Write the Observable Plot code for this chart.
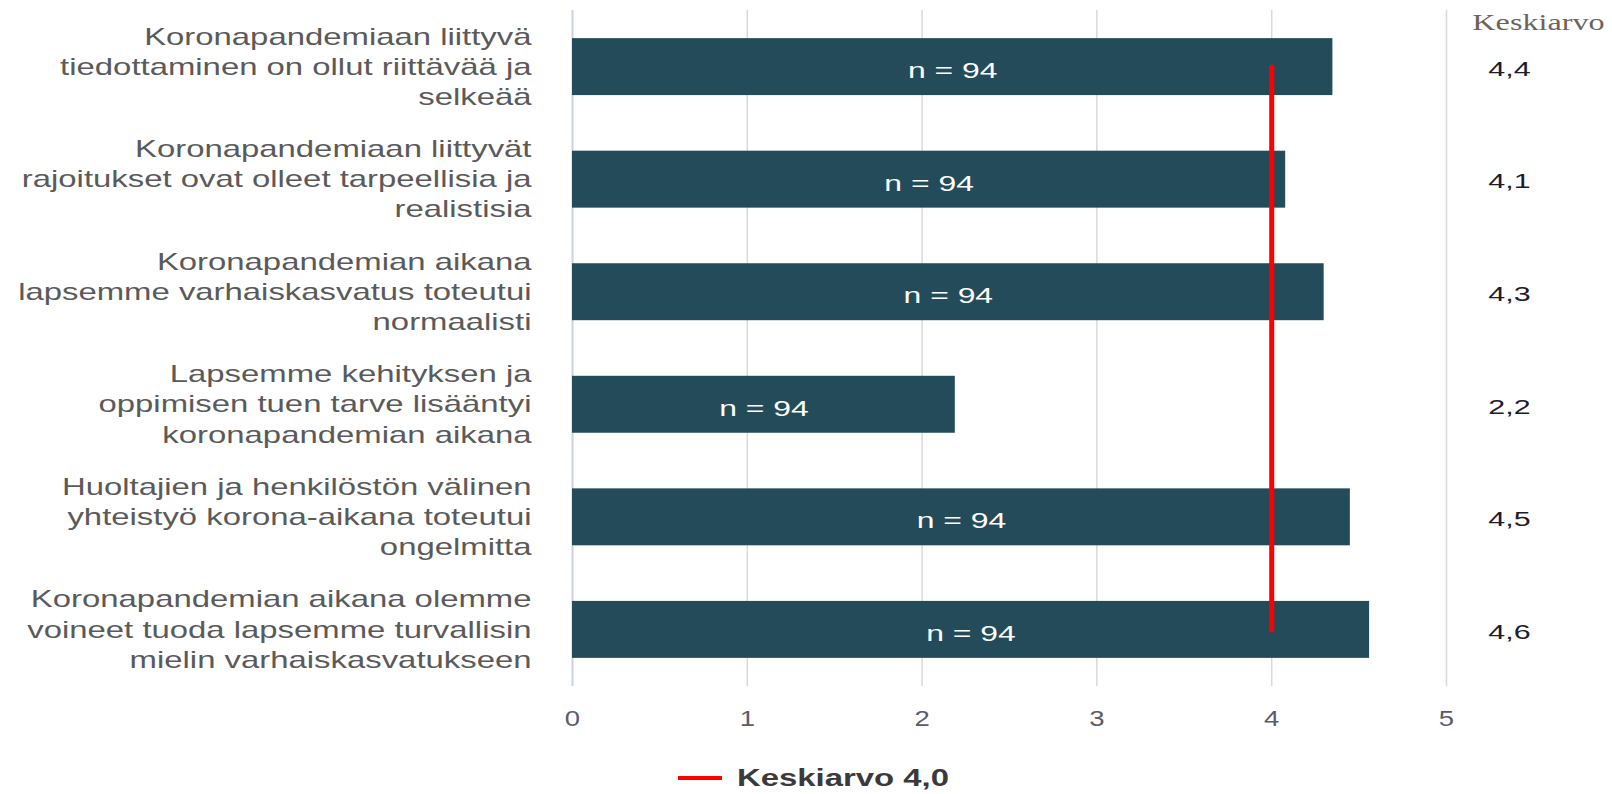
<!DOCTYPE html>
<html>
<head>
<meta charset="utf-8">
<script src="https://cdn.jsdelivr.net/npm/d3@7"></script>
<script src="https://cdn.jsdelivr.net/npm/@observablehq/plot@0.6"></script>
<style>
  body { margin: 0; background: #fff; }
  #legend { display: flex; align-items: center; height: 28px; margin-top: 14px; padding-left: 678px;
            font-family: "Liberation Sans", Arial, sans-serif; }
  #legend .swatch { display: inline-block; width: 44px; height: 4px; background: #ff0000; margin-right: 15px; }
  #legend .lbl { display: inline-block; font-weight: bold; font-size: 24px; color: #3a3a3a;
                 transform: scaleX(1.37); transform-origin: left center; white-space: nowrap; }
</style>
</head>
<body>
<div id="chart"></div>
<div id="legend"><span class="swatch"></span><span class="lbl"></span></div>
<script>
const categories = [
  "Koronapandemiaan liittyvä\ntiedottaminen on ollut riittävää ja\nselkeää",
  "Koronapandemiaan liittyvät\nrajoitukset ovat olleet tarpeellisia ja\nrealistisia",
  "Koronapandemian aikana\nlapsemme varhaiskasvatus toteutui\nnormaalisti",
  "Lapsemme kehityksen ja\noppimisen tuen tarve lisääntyi\nkoronapandemian aikana",
  "Huoltajien ja henkilöstön välinen\nyhteistyö korona-aikana toteutui\nongelmitta",
  "Koronapandemian aikana olemme\nvoineet tuoda lapsemme turvallisin\nmielin varhaiskasvatukseen"
];
const means = [4.35, 4.08, 4.30, 2.19, 4.45, 4.56];
const meanLabels = ["4,4", "4,1", "4,3", "2,2", "4,5", "4,6"];
const nLabels = ["n = 94", "n = 94", "n = 94", "n = 94", "n = 94", "n = 94"];
const xTicks = [0, 1, 2, 3, 4, 5];
const overallMean = 4.0;
const valueHeader = "Keskiarvo";
const legendLabel = "Keskiarvo 4,0";

const rows = categories.map((c, i) => ({cat: c, mean: means[i], meanLabel: meanLabels[i], n: nLabels[i]}));
const meanLine = [categories[0], categories[categories.length - 1]].map(c => ({x: overallMean, y: c}));

const chart = Plot.plot({
  width: 1612,
  height: 750,
  marginLeft: 572,
  marginRight: 166,
  marginTop: 10,
  marginBottom: 64,
  style: {fontFamily: '"Liberation Sans", Arial, sans-serif', background: "#fff", overflow: "visible"},
  x: {domain: [0, 5], ticks: xTicks, label: null},
  y: {domain: categories, paddingInner: 0.494, paddingOuter: 0.25, round: false, label: null},
  marks: [
    Plot.gridX(xTicks.slice(1), {stroke: "#d9d9d9", strokeOpacity: 1, strokeWidth: 1.5}),
    Plot.gridX(xTicks.slice(0, 1), {stroke: "#cbd2e3", strokeOpacity: 1, strokeWidth: 2}),
    Plot.barX(rows, {x: "mean", y: "cat", fill: "#244b5a"}),
    Plot.text(rows, {x: d => d.mean / 2, y: "cat", text: "n", fill: "#ffffff", fontSize: 22, dy: 4}),
    Plot.line(meanLine, {x: "x", y: "y", stroke: "#ff0000", strokeWidth: 5}),
    Plot.text(rows, {y: "cat", text: "meanLabel", frameAnchor: "right", dx: 63, dy: 2, textAnchor: "middle",
                     fontSize: 21, fill: "#1c1c2a"}),
    Plot.text([valueHeader], {text: d => d, frameAnchor: "top-right", dx: 92, dy: 12, lineAnchor: "middle",
                     textAnchor: "middle", fontFamily: '"Liberation Serif", "Times New Roman", serif',
                     fontSize: 23, fill: "#6e635a"}),
    Plot.axisY({tickSize: 0, tickPadding: 41, fontSize: 23, lineHeight: 1.31, fill: "#5a5a5a", label: null, dy: -2}),
    Plot.axisX(xTicks, {tickSize: 0, tickPadding: 24, fontSize: 22, fill: "#5b5b6b", label: null, tickFormat: d => String(d)})
  ]
});

function stretchGroup(group, k) {
  if (!group) return;
  group.querySelectorAll("text").forEach(t => {
    const tr = t.getAttribute("transform") || "";
    t.setAttribute("transform", tr + ` scale(${k},1)`);
  });
}
chart.querySelectorAll('g[aria-label="y-axis tick label"]').forEach(g => stretchGroup(g, 1.43));
chart.querySelectorAll('g[aria-label="x-axis tick label"]').forEach(g => stretchGroup(g, 1.25));
const textGroups = chart.querySelectorAll('g[aria-label="text"]');
stretchGroup(textGroups[0], 1.45); // n = 94 labels inside bars
stretchGroup(textGroups[1], 1.45); // mean values column
stretchGroup(textGroups[2], 1.4);  // column header

document.getElementById("chart").appendChild(chart);
document.querySelector("#legend .lbl").textContent = legendLabel;
</script>
</body>
</html>
